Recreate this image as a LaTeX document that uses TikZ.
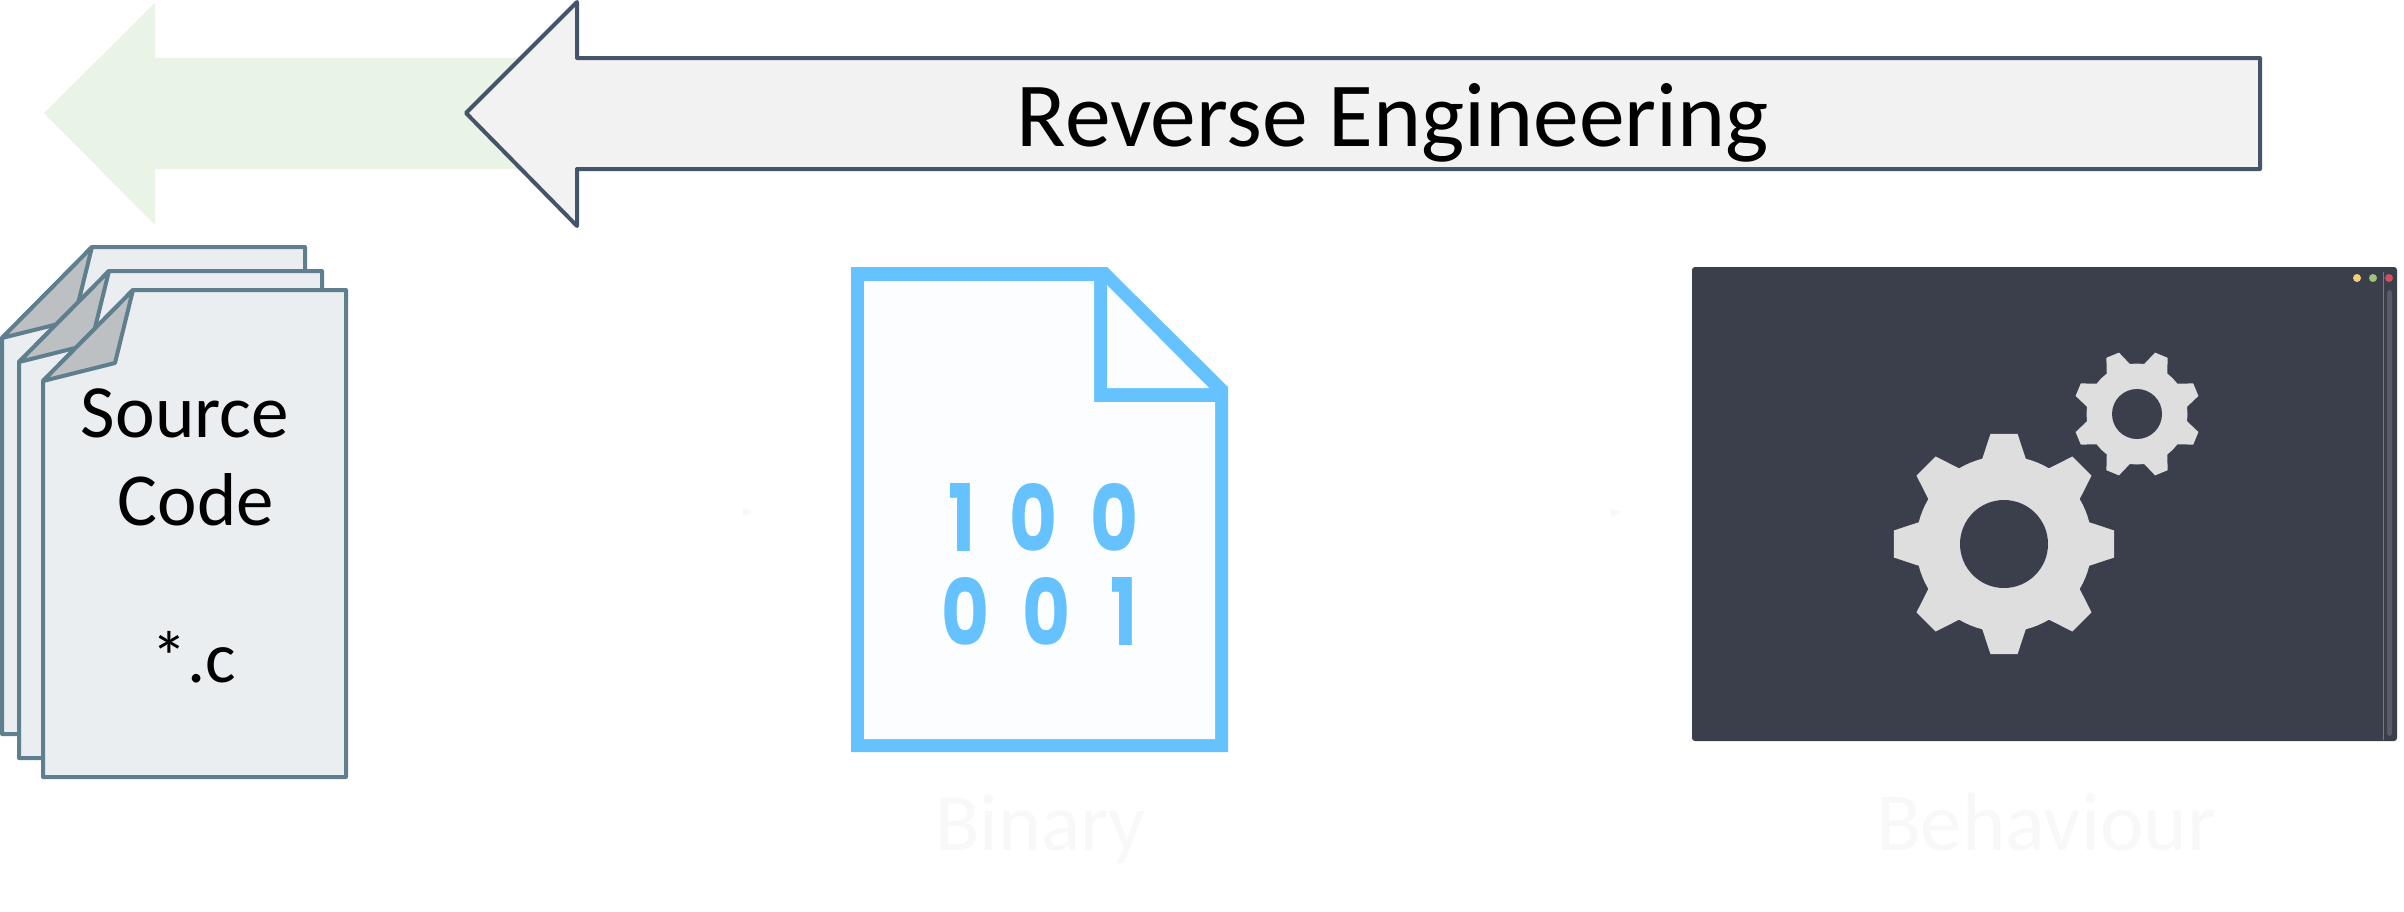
\documentclass[tikz,border=0pt]{standalone}
\usepackage{fontspec}
\setmainfont{Carlito}
\newfontfamily\digitfont[UprightFont=* Bold]{Poppins}
\definecolor{greenarrow}{HTML}{E9F3E6}
\definecolor{greyarrow}{HTML}{F2F2F2}
\definecolor{arrowline}{HTML}{44546A}
\definecolor{pageline}{HTML}{5F7F8F}
\definecolor{pagefill}{HTML}{EBEEF1}
\definecolor{foldfill}{HTML}{BCC0C2}
\definecolor{binblue}{HTML}{66C2FF}
\definecolor{binfill}{HTML}{FBFDFE}
\definecolor{screen}{HTML}{3B3F4C}
\definecolor{gearcol}{HTML}{DEDEDE}
\definecolor{faint}{HTML}{F8F8F8}
\definecolor{dotyellow}{HTML}{F3CD7A}
\definecolor{dotgreen}{HTML}{9DC37D}
\definecolor{dotred}{HTML}{C9525F}
\tikzset{
  pagebody/.style={draw=pageline,fill=pagefill,line width=2pt,line join=round},
  foldbody/.style={draw=pageline,fill=foldfill,line width=2pt,line join=round},
  blacktext/.style={inner sep=0pt,outer sep=0pt,text=black,anchor=base},
  fainttext/.style={inner sep=0pt,outer sep=0pt,text=faint,anchor=base},
  digit/.style={inner sep=0pt,outer sep=0pt,text=binblue,anchor=center},
}
\newcommand{\zerodigit}{\resizebox{24pt}{34pt}{\digitfont 0}}
\newcommand{\onedigit}{\resizebox{13.5pt}{34pt}{\digitfont 1}}
\begin{document}
\begin{tikzpicture}[x=0.5pt,y=-0.5pt]
\useasboundingbox (0,0) rectangle (2404,911);
\fill[white] (0,0) rectangle (2404,911);
% back green arrow
\fill[greenarrow] (44,113) -- (155,3) -- (155,58) -- (560,58) -- (560,169) -- (155,169) -- (155,225) -- cycle;
% reverse engineering arrow
\draw[draw=arrowline,fill=greyarrow,line width=2pt,line join=round]
  (466,113) -- (577,2) -- (577,58) -- (2260,58) -- (2260,169) -- (577,169) -- (577,226) -- cycle;
\node[blacktext] (revtext) at (1393,146.5) {\resizebox{376pt}{!}{\fontsize{45}{50}\selectfont Reverse Engineering}};
% source pages
\foreach \dx/\dy in {-41/-43,-24/-19,0/0}{
  \begin{scope}[shift={(\dx,\dy)}]
    \draw[pagebody] (133,290) -- (346,290) -- (346,777) -- (43,777) -- (43,381) -- cycle;
    \draw[foldbody] (133,290) -- (115,363) -- (43,381) -- cycle;
  \end{scope}
}
\node[blacktext] (srcA) at (185,437) {\resizebox{104pt}{!}{\fontsize{36}{40}\selectfont Source}};
\node[blacktext] (srcB) at (196,525) {\resizebox{78pt}{!}{\fontsize{36}{40}\selectfont Code}};
\node[blacktext] (srcC) at (194,682) {\fontsize{36}{40}\selectfont *.c};
% binary file
\fill[binblue] (851,267) -- (1107,267) -- (1228,387) -- (1228,752) -- (851,752) -- cycle;
\fill[binfill] (864,281) -- (1094,281) -- (1094,402) -- (1215,402) -- (1215,739) -- (864,739) -- cycle;
\fill[binfill] (1107,285) -- (1209,388) -- (1107,388) -- cycle;
\node[digit] (d1) at (962,517) {\onedigit};
\node[digit] (d2) at (1033,517) {\zerodigit};
\node[digit] (d3) at (1114,517) {\zerodigit};
\node[digit] (d4) at (965.5,611) {\zerodigit};
\node[digit] (d5) at (1046.5,611) {\zerodigit};
\node[digit] (d6) at (1124,611) {\onedigit};
% screen
\fill[screen,rounded corners=1.5pt] (1692,267) rectangle (2397,741);
\draw[white!30!screen,line width=0.5pt] (2383,272) -- (2383,740);
\fill[white!15!screen,rounded corners=1.5pt] (2387,290) rectangle (2392,736);
\fill[dotyellow] (2357,278) circle (4);
\fill[dotgreen] (2373,278) circle (4);
\fill[dotred] (2389,278) circle (4);
% gears
\begin{scope}[shift={(2004,544)}]
  \fill[gearcol] (-14.3:88)
    \foreach \a in {0,45,...,315}{
      -- (\a-14.3:88) -- (\a-7:111) -- (\a+7:111) -- (\a+14.3:88) -- (\a+18.5:88) -- (\a+22.5:88) -- (\a+26.5:88)
    } -- cycle;
  \fill[screen] (0,0) circle (44);
\end{scope}
\begin{scope}[shift={(2137,414)}]
  \fill[gearcol] (8.2:50.5)
    \foreach \a in {22.5,67.5,...,337.5}{
      -- (\a-14.3:50.5) -- (\a-6.1:64) -- (\a+6.1:64) -- (\a+14.3:50.5) -- (\a+22.5:50.5)
    } -- cycle;
  \fill[screen] (0,0) circle (25);
\end{scope}
% faint remnants
\node[fainttext] (binlabel) at (1040.5,850) {\resizebox{105.5pt}{!}{\fontsize{36}{40}\selectfont Binary}};
\node[fainttext] (behlabel) at (2046,850) {\resizebox{170pt}{!}{\fontsize{36}{40}\selectfont Behaviour}};
\fill[faint] (743,508) -- (752,512) -- (743,516) -- cycle;
\fill[faint] (1611,508) -- (1621,512) -- (1611,517) -- cycle;
\end{tikzpicture}
\end{document}
